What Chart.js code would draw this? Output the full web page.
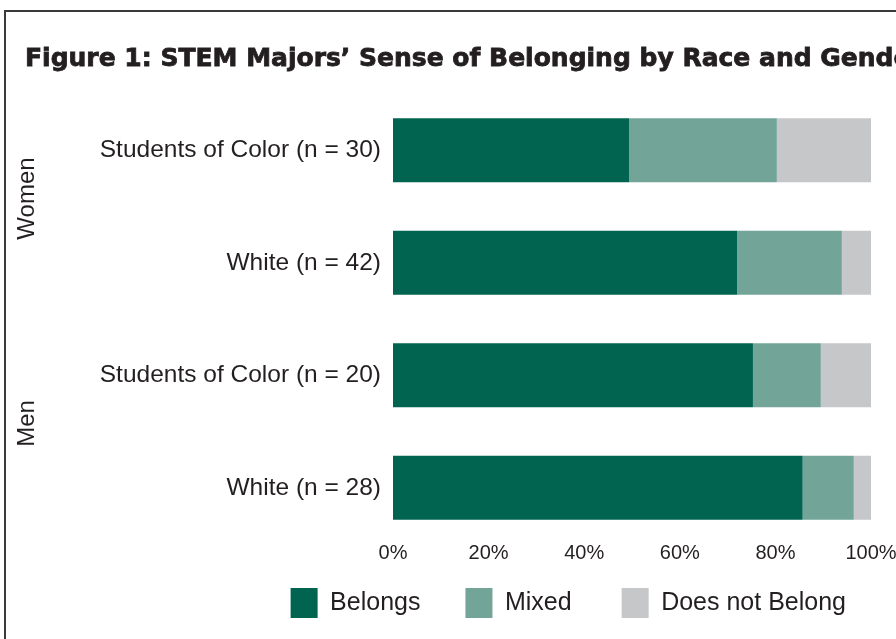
<!DOCTYPE html>
<html>
<head>
<meta charset="utf-8">
<script src="https://cdn.jsdelivr.net/npm/chart.js@4.4.1/dist/chart.umd.min.js"></script>
<style>
  html, body { margin: 0; padding: 0; background: #ffffff; }
  #wrap { position: relative; width: 896px; height: 639px; }
</style>
</head>
<body>
<div id="wrap"><canvas id="belongingChart"></canvas></div>
<script>
// Chart data (percent of each group)
const titleText = "Figure 1: STEM Majors\u2019 Sense of Belonging by Race and Gender";
const categories = [
    "Students of Color (n = 30)",
    "White (n = 42)",
    "Students of Color (n = 20)",
    "White (n = 28)",
];
const groupLabels = ["Women", "Men"];
const seriesNames = ["Belongs", "Mixed", "Does not Belong"];
const belongs = [49.4, 72.0, 75.3, 85.7];
const mixed = [30.9, 21.9, 14.2, 10.7];
const notBelong = [19.7, 6.1, 10.5, 3.6];
const xTickLabels = ["0%", "20%", "40%", "60%", "80%", "100%"];

const colors = ["#006450", "#72a498", "#c6c7c8"];
const textColor = "#231f20";

// extra room after each legend entry (the figure spaces them wider than Chart.js does)
const legendGaps = ["\u2003", "\u2003\u2009", "\u2009"];

Chart.defaults.font.family = "'Liberation Sans', Arial, sans-serif";
Chart.defaults.color = textColor;

// frame, title and the rotated group labels
const framePlugin = {
    id: "frame",
    afterDraw(chart) {
        const ctx = chart.ctx;
        const yScale = chart.scales.y;
        ctx.save();

        ctx.strokeStyle = "#3a3a3a";
        ctx.lineWidth = 2;
        ctx.beginPath();
        ctx.moveTo(5, chart.height);
        ctx.lineTo(5, 11);
        ctx.lineTo(chart.width, 11);
        ctx.stroke();

        // heavy title: bold face plus a thin stroke
        ctx.fillStyle = textColor;
        ctx.strokeStyle = textColor;
        ctx.lineWidth = 0.8;
        ctx.font = "bold 25px 'DejaVu Sans'";
        ctx.textAlign = "left";
        ctx.textBaseline = "alphabetic";
        ctx.fillText(titleText, 25, 66);
        ctx.strokeText(titleText, 25, 66);

        ctx.font = "24px 'Liberation Sans'";
        ctx.textAlign = "center";
        ctx.textBaseline = "middle";
        groupLabels.forEach((label, i) => {
            const mid = (yScale.getPixelForValue(2 * i) + yScale.getPixelForValue(2 * i + 1)) / 2 - 8;
            ctx.save();
            ctx.translate(27, mid);
            ctx.rotate(-Math.PI / 2);
            ctx.fillText(label, 0, 0);
            ctx.restore();
        });
        ctx.restore();
    },
};

const seriesData = [belongs, mixed, notBelong];

new Chart(document.getElementById("belongingChart").getContext("2d"), {
    type: "bar",
    data: {
        labels: categories,
        datasets: seriesNames.map((name, i) => ({
            label: name,
            data: seriesData[i],
            backgroundColor: colors[i],
            borderWidth: 0,
            barPercentage: 1,
            categoryPercentage: 0.57,
        })),
    },
    options: {
        indexAxis: "y",
        responsive: true,
        maintainAspectRatio: false,
        animation: false,
        layout: { padding: { top: 94, right: 25, bottom: 11, left: 0 } },
        scales: {
            x: {
                stacked: true,
                min: 0,
                max: 100,
                grid: { display: false, drawTicks: false },
                border: { display: false },
                ticks: {
                    stepSize: 20,
                    padding: -3,
                    color: textColor,
                    font: { size: 20 },
                    callback: (value, index) => xTickLabels[index],
                },
                afterFit: (scale) => { scale.height = 24; },
            },
            y: {
                stacked: true,
                grid: { display: false, drawTicks: false },
                border: { display: false },
                ticks: {
                    padding: 12,
                    color: textColor,
                    font: { size: 24.5 },
                },
                afterFit: (scale) => { scale.width = 393; },
            },
        },
        plugins: {
            legend: {
                position: "bottom",
                align: "end",
                labels: {
                    boxWidth: 27,
                    boxHeight: 30,
                    padding: 20,
                    color: textColor,
                    font: { size: 25 },
                    generateLabels: (chart) =>
                        Chart.defaults.plugins.legend.labels.generateLabels(chart).map((item, i) => ({
                            ...item,
                            text: item.text + legendGaps[i],
                        })),
                },
            },
            tooltip: { enabled: false },
        },
    },
    plugins: [framePlugin],
});
</script>
</body>
</html>
